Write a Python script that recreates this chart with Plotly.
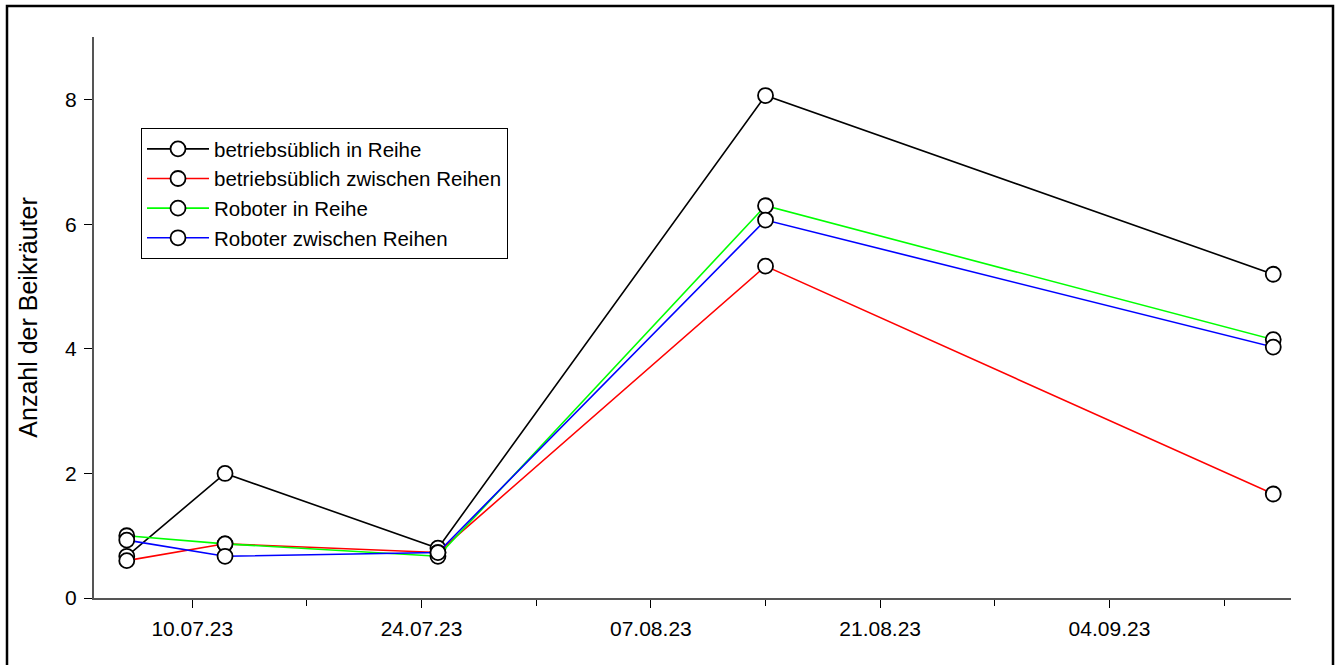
import plotly.graph_objects as go

# Sampling dates and weed counts per treatment
dates = ["2023-07-06", "2023-07-12", "2023-07-25", "2023-08-14", "2023-09-14"]
series_names = [
    "betriebsüblich in Reihe",
    "betriebsüblich zwischen Reihen",
    "Roboter in Reihe",
    "Roboter zwischen Reihen",
]
betrieb_reihe = [0.67, 2.0, 0.8, 8.07, 5.2]
betrieb_zwischen = [0.6, 0.87, 0.73, 5.33, 1.67]
roboter_reihe = [1.0, 0.87, 0.67, 6.3, 4.15]
roboter_zwischen = [0.93, 0.67, 0.73, 6.07, 4.03]
line_colors = ["#000000", "#ff0000", "#00ff00", "#0000ff"]

values = [betrieb_reihe, betrieb_zwischen, roboter_reihe, roboter_zwischen]

fig = go.Figure()
for name, vals, col in zip(series_names, values, line_colors):
    fig.add_trace(go.Scatter(
        x=dates, y=vals, name=name, mode="lines+markers",
        line=dict(color=col, width=1.6),
        marker=dict(symbol="circle", size=15, color="white",
                    line=dict(color="black", width=1.8)),
    ))

W, H = 1337, 665
ml, mr, mt, mb = 94, 46, 37, 67
pw, ph = W - ml - mr, H - mt - mb

def px_x(v):
    return (v - ml) / pw

def px_y(v):
    return (H - mb - v) / ph

font_family = "Liberation Sans, Arial, sans-serif"

fig.update_layout(
    width=W, height=H,
    margin=dict(l=ml, r=mr, t=mt, b=mb),
    plot_bgcolor="white", paper_bgcolor="white",
    font=dict(family=font_family, size=21, color="black"),
    showlegend=True,
    legend=dict(
        x=px_x(141), y=px_y(128), xanchor="left", yanchor="top",
        bgcolor="white", bordercolor="black", borderwidth=1,
        font=dict(size=20.5), tracegroupgap=0, itemwidth=62,
    ),
    xaxis=dict(
        type="date",
        range=["2023-07-04", "2023-09-15 02:00"],
        tick0="2023-07-10", dtick=14 * 86400000,
        tickformat="%d.%m.%y",
        ticks="outside", ticklen=8, tickwidth=1.3, tickcolor="black",
        showline=True, linecolor="#555555", linewidth=2,
        showgrid=False, zeroline=False,
        ticklabelstandoff=3,
        tickfont=dict(size=21),
        minor=dict(dtick=7 * 86400000, tick0="2023-07-03", ticks="outside",
                   ticklen=6, tickwidth=1.3, tickcolor="black", showgrid=False),
    ),
    yaxis=dict(
        range=[0, 9.01], tick0=0, dtick=2,
        ticks="outside", ticklen=8, tickwidth=1.3, tickcolor="black",
        showline=True, linecolor="#555555", linewidth=2,
        showgrid=False, zeroline=False,
        ticklabelstandoff=3,
        tickfont=dict(size=21),
        title=dict(text="Anzahl der Beikräuter", font=dict(size=25), standoff=20),
    ),
    shapes=[
        dict(type="rect", xref="paper", yref="paper",
             x0=px_x(7), x1=px_x(1333), y0=px_y(700), y1=px_y(6),
             line=dict(color="black", width=2.5), fillcolor="rgba(0,0,0,0)",
             layer="below"),
    ],
)

fig.write_html("out.html")
